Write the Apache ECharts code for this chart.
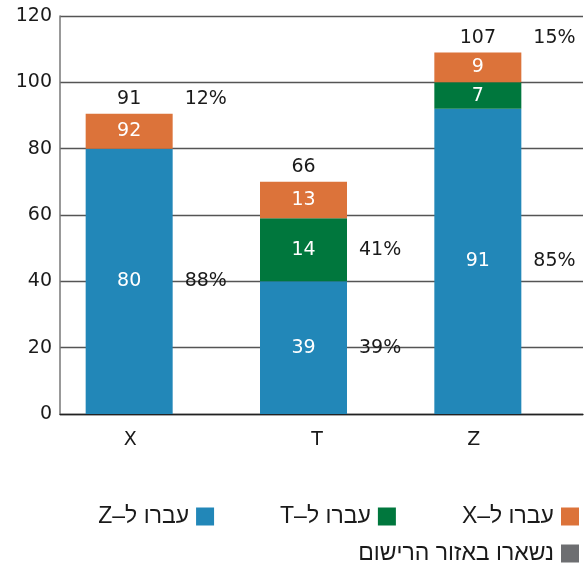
<!DOCTYPE html>
<html>
<head>
<meta charset="utf-8">
<script src="https://cdn.jsdelivr.net/npm/echarts@6/dist/echarts.min.js"></script>
<style>
html,body{margin:0;padding:0;background:#fff;}
#c{width:586px;height:566px;}
</style>
</head>
<body>
<div id="c" dir="rtl"></div>
<script>
const categories = ['X', 'T', 'Z'];
const seriesNames = ['עברו ל–Z', 'עברו ל–T', 'עברו ל–X', 'נשארו באזור הרישום'];
// bar heights as drawn
const toZ = [80, 40, 92];
const toT = [0, 19, 8];
const toX = [10.5, 11, 9];
const stayed = [0, 0, 0];
// labels printed on the chart
const toZLabels = ['80', '39', '91'];
const toTLabels = ['', '14', '7'];
const toXLabels = ['92', '13', '9'];
const totalLabels = ['91', '66', '107'];
const pctLow = ['88%', '39%', '85%'];
const pctMid = ['', '41%', ''];
const pctTop = ['12%', '', '15%'];
const yTicks = [0, 20, 40, 60, 80, 100, 120];

const colors = ['#2287b8', '#00773d', '#dc733a', '#6d6e71'];
const FONT = "'DejaVu Sans', 'Liberation Sans', sans-serif";
const HFONT = "'Liberation Sans', 'DejaVu Sans', sans-serif";
const FS = 19;

function inside(name, vals, labels, color) {
  return {
    name: name, type: 'bar', stack: 'main', barWidth: 87,
    itemStyle: { color: color },
    data: vals.map((v, i) => ({ value: v, label: { formatter: labels[i] } })),
    label: { show: true, position: 'inside', color: '#fff', fontSize: FS, fontFamily: FONT },
    emphasis: { disabled: true }
  };
}
function ghost(vals, labels, pos, vAlign, off) {
  return {
    type: 'bar', stack: 'ghost', barWidth: 36, silent: true,
    itemStyle: { color: 'rgba(0,0,0,0)' },
    data: vals.map((v, i) => ({ value: v, label: { formatter: labels[i] } })),
    label: { show: true, position: pos, align: 'left', verticalAlign: vAlign, offset: off,
      color: '#1a1a1a', fontSize: FS, fontFamily: FONT },
    emphasis: { disabled: true }
  };
}

const chart = echarts.init(document.getElementById('c'), null, { renderer: 'canvas' });
chart.setOption({
  animation: false,
  textStyle: { fontFamily: FONT },
  grid: { left: 60, right: 3, top: 16, bottom: 152, containLabel: false },
  legend: [
    { data: [seriesNames[0], seriesNames[1], seriesNames[2]], right: 2, top: 500, align: 'right',
      orient: 'horizontal', itemGap: 66, itemWidth: 18, itemHeight: 18, icon: 'rect',
      textStyle: { fontSize: 23, color: '#1a1a1a', fontFamily: HFONT, padding: [0, 2, 0, 0] },
      selectedMode: false },
    { data: [seriesNames[3]], right: 2, top: 537, align: 'right',
      itemWidth: 18, itemHeight: 18, icon: 'rect',
      textStyle: { fontSize: 23, color: '#1a1a1a', fontFamily: HFONT, padding: [0, 2, 0, 0] },
      selectedMode: false }
  ],
  xAxis: {
    type: 'category', data: categories,
    axisLine: { lineStyle: { color: '#222', width: 1.3 } },
    axisTick: { show: false },
    axisLabel: {
      fontSize: FS, color: '#1a1a1a', margin: 17, fontFamily: FONT,
      formatter: v => '{' + v + '|' + v + '}',
      rich: {
        X: { fontSize: FS, fontFamily: FONT, color: '#1a1a1a', padding: [0, 34, 0, 0] },
        T: { fontSize: FS, fontFamily: FONT, color: '#1a1a1a', padding: [0, 9, 0, 0] },
        Z: { fontSize: FS, fontFamily: FONT, color: '#1a1a1a', padding: [0, 44, 0, 0] }
      }
    }
  },
  yAxis: {
    type: 'value', min: yTicks[0], max: yTicks[yTicks.length - 1], interval: yTicks[1] - yTicks[0],
    axisLine: { show: true, lineStyle: { color: '#777', width: 1.5 } },
    axisTick: { show: false },
    axisLabel: { fontSize: FS, color: '#1a1a1a', margin: 8, fontFamily: FONT },
    splitLine: { lineStyle: { color: '#555', width: 1.3 } }
  },
  series: [
    inside(seriesNames[0], toZ, toZLabels, colors[0]),
    inside(seriesNames[1], toT, toTLabels, colors[1]),
    inside(seriesNames[2], toX, toXLabels, colors[2]),
    {
      name: seriesNames[3], type: 'bar', stack: 'main', barWidth: 87,
      itemStyle: { color: colors[3] },
      data: stayed.map((v, i) => ({ value: v, label: { formatter: totalLabels[i] } })),
      label: { show: true, position: 'top', distance: 5, color: '#1a1a1a', fontSize: FS, fontFamily: FONT },
      emphasis: { disabled: true }
    },
    Object.assign(ghost(toZ, pctLow, [12, '50%'], 'middle', [0, 0]), { barGap: 0 }),
    ghost(toT, pctMid, [12, '50%'], 'middle', [0, 0]),
    ghost(toX, ['', '', ''], [12, '50%'], 'middle', [0, 0]),
    ghost(stayed, pctTop, [12, 0], 'bottom', [0, -5])
  ]
});
</script>
</body>
</html>
